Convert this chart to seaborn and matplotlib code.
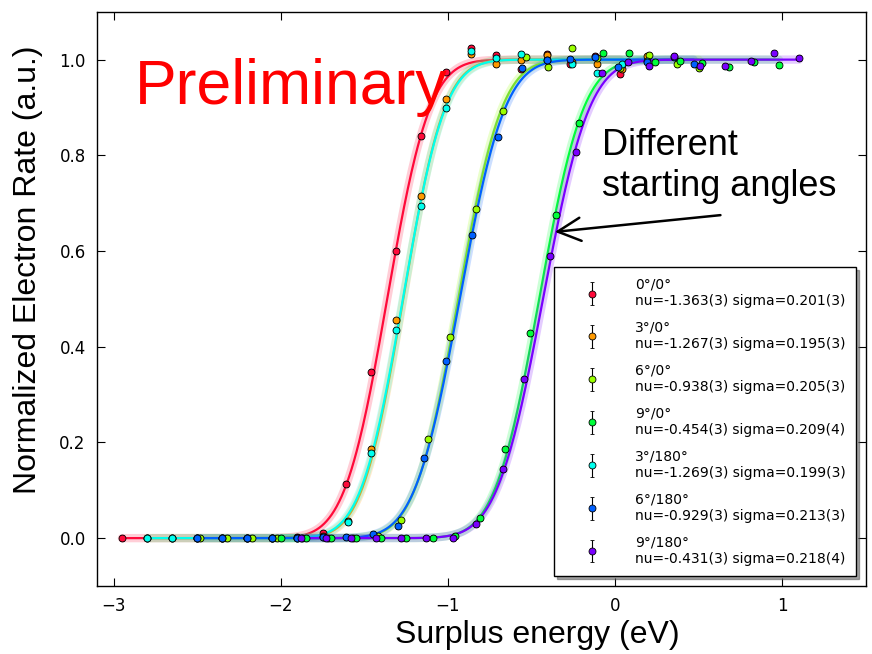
import math
import numpy as np
import matplotlib
matplotlib.use("Agg")
import matplotlib.pyplot as plt
from matplotlib.legend_handler import HandlerErrorbar
from matplotlib.container import ErrorbarContainer
import seaborn as sns

# angle labels and fit results from the legend
labels = ["0°/0°", "3°/0°", "6°/0°", "9°/0°", "3°/180°", "6°/180°", "9°/180°"]
nu = [-1.363, -1.267, -0.938, -0.454, -1.269, -0.929, -0.431]
sigma = [0.201, 0.195, 0.205, 0.209, 0.199, 0.213, 0.218]
nu_txt = ["-1.363(3)", "-1.267(3)", "-0.938(3)", "-0.454(3)", "-1.269(3)", "-0.929(3)", "-0.431(3)"]
sigma_txt = ["0.201(3)", "0.195(3)", "0.205(3)", "0.209(4)", "0.199(3)", "0.213(3)", "0.218(4)"]
colors = ["#ff0a3a", "#ff9a00", "#9aff00", "#00ff3a", "#00ffee", "#0060ff", "#7a00ff"]

x_red = [-2.95, -2.80, -2.65, -2.50, -2.35, -2.20, -2.05, -1.90, -1.75, -1.61, -1.46,
         -1.31, -1.16, -1.01, -0.86, -0.71, -0.56, -0.41, -0.27, -0.12, 0.03]
y_red = [0, 0, 0, 0, 0, 0, 0, 0.002, 0.01, 0.113, 0.347,
         0.60, 0.84, 0.975, 1.025, 1.01, 0.98, 1.012, 0.99, 1.008, 0.969]
x_orange = [-2.80, -2.65, -2.50, -2.35, -2.20, -2.05, -1.90, -1.75, -1.60, -1.46, -1.31,
            -1.16, -1.01, -0.86, -0.71, -0.56, -0.41, -0.26, -0.11, 0.04, 0.19]
y_orange = [0, 0, 0, 0, 0, 0, 0, 0.004, 0.036, 0.186, 0.455,
            0.714, 0.918, 1.012, 0.99, 1.0, 1.01, 0.995, 0.99, 0.98, 1.007]
x_ygreen = [-2.48, -2.32, -2.17, -2.02, -1.87, -1.72, -1.57, -1.42, -1.28, -1.12, -0.99,
            -0.834, -0.67, -0.53, -0.40, -0.26, -0.11, 0.03, 0.20, 0.37, 0.50]
y_ygreen = [0, 0, 0, 0, 0, 0, 0.001, 0.005, 0.037, 0.207, 0.42,
            0.687, 0.893, 1.005, 0.985, 1.025, 1.004, 0.983, 1.01, 0.991, 0.983]
x_green = [-2.00, -1.85, -1.70, -1.55, -1.40, -1.25, -1.09, -0.96, -0.81, -0.656, -0.507,
           -0.353, -0.217, -0.07, 0.084, 0.24, 0.39, 0.52, 0.68, 0.83, 0.98]
y_green = [0, 0, 0, 0, 0, 0, 0.001, 0.004, 0.042, 0.186, 0.428,
           0.675, 0.868, 1.013, 1.014, 0.995, 0.997, 0.993, 0.985, 0.994, 0.989]
x_cyan = [-2.80, -2.65, -2.50, -2.35, -2.20, -2.05, -1.90, -1.75, -1.60, -1.46, -1.31,
          -1.16, -1.01, -0.86, -0.71, -0.56, -0.41, -0.26, -0.11, 0.04, 0.19]
y_cyan = [0, 0, 0, 0, 0, 0, 0, 0.003, 0.033, 0.177, 0.434,
          0.695, 0.898, 1.017, 1.004, 1.012, 1.0, 0.99, 0.973, 0.99, 0.998]
x_blue = [-2.50, -2.35, -2.20, -2.05, -1.90, -1.75, -1.61, -1.45, -1.30, -1.14, -1.01,
          -0.857, -0.70, -0.555, -0.41, -0.27, -0.12, 0.02, 0.19, 0.35, 0.47]
y_blue = [0, 0, 0, 0, 0, 0.002, 0.003, 0.008, 0.025, 0.167, 0.37,
          0.634, 0.838, 0.983, 1.0, 1.002, 1.006, 0.985, 0.996, 1.006, 0.99]
x_purple = [-1.88, -1.73, -1.58, -1.43, -1.28, -1.13, -0.97, -0.83, -0.673, -0.543, -0.39,
            -0.234, -0.08, 0.076, 0.20, 0.353, 0.507, 0.66, 0.81, 0.95, 1.10]
y_purple = [0, 0, 0, 0, 0, 0, 0.001, 0.03, 0.144, 0.332, 0.589,
            0.806, 0.973, 0.994, 0.986, 1.007, 0.987, 0.986, 0.998, 1.014, 1.003]

xs = [x_red, x_orange, x_ygreen, x_green, x_cyan, x_blue, x_purple]
ys = [y_red, y_orange, y_ygreen, y_green, y_cyan, y_blue, y_purple]

sns.set_style("ticks")
plt.rcParams["font.family"] = ["DejaVu Sans"]
plt.rcParams["text.color"] = "black"
plt.rcParams["axes.labelcolor"] = "black"
plt.rcParams["xtick.color"] = "black"
plt.rcParams["ytick.color"] = "black"

fig = plt.figure(figsize=(8.72, 6.54), dpi=100)
ax = fig.add_axes([0.111, 0.104, 0.882, 0.878])

erf = np.vectorize(math.erf)

# fitted error-function curves: soft wide band + thin line
for i in range(7):
    xf = np.linspace(min(xs[i]), max(xs[i]), 400)
    yf = 0.5 * (1 + erf((xf - nu[i]) / (sigma[i] * np.sqrt(2))))
    sns.lineplot(x=xf, y=yf, color=colors[i], lw=6, alpha=0.2, ax=ax, legend=False)
    sns.lineplot(x=xf, y=yf, color=colors[i], lw=1.6, ax=ax, legend=False)

handles = []
for i in range(7):
    h = ax.errorbar(xs[i], ys[i], yerr=0.006, fmt="o", color=colors[i], ms=5,
                    mec="black", mew=0.6, ecolor="black", elinewidth=0.8, capsize=1.5,
                    label=f"{labels[i]}\nnu={nu_txt[i]} sigma={sigma_txt[i]}", zorder=3)
    handles.append(h)

ax.set_xlim(-3.1, 1.5)
ax.set_ylim(-0.1, 1.1)
ax.set_xticks([-3, -2, -1, 0, 1])
ax.set_yticks([0.0, 0.2, 0.4, 0.6, 0.8, 1.0])
ax.tick_params(axis="both", which="both", direction="in", top=True, right=True,
               length=6, width=0.8, labelsize=12, pad=8, colors="black")
for s in ax.spines.values():
    s.set_color("black")
    s.set_linewidth(1.0)

ax.set_xlabel("Surplus energy (eV)", fontsize=23, family="Liberation Sans")
ax.set_ylabel("Normalized Electron Rate (a.u.)", fontsize=23, family="Liberation Sans")
ax.xaxis.set_label_coords(0.573, -0.06)
ax.yaxis.set_label_coords(-0.07, 0.55)

ax.text(-2.87, 0.908, "Preliminary", color="red", fontsize=45, family="Liberation Sans",
        va="baseline", ha="left", zorder=5)
ax.text(-0.08, 0.716, "Different\nstarting angles", color="black", fontsize=26,
        family="Liberation Sans", va="baseline", ha="left", linespacing=1.2)
ax.annotate("", xy=(-0.36, 0.64), xytext=(0.63, 0.675),
            arrowprops=dict(arrowstyle="->,head_length=0.75,head_width=0.38",
                            lw=1.8, color="black", mutation_scale=22, shrinkA=0, shrinkB=0))

leg = ax.legend(handles=handles, loc="lower right", fontsize=10, numpoints=1,
                fancybox=False, shadow=True, framealpha=1, edgecolor="black",
                handlelength=4.0, handletextpad=1.1, borderaxespad=0.7,
                labelspacing=0.92, borderpad=0.75,
                handler_map={ErrorbarContainer: HandlerErrorbar(yerr_size=0.8)})
leg.get_frame().set_linewidth(1.0)

fig.savefig("out.png", dpi=100)
